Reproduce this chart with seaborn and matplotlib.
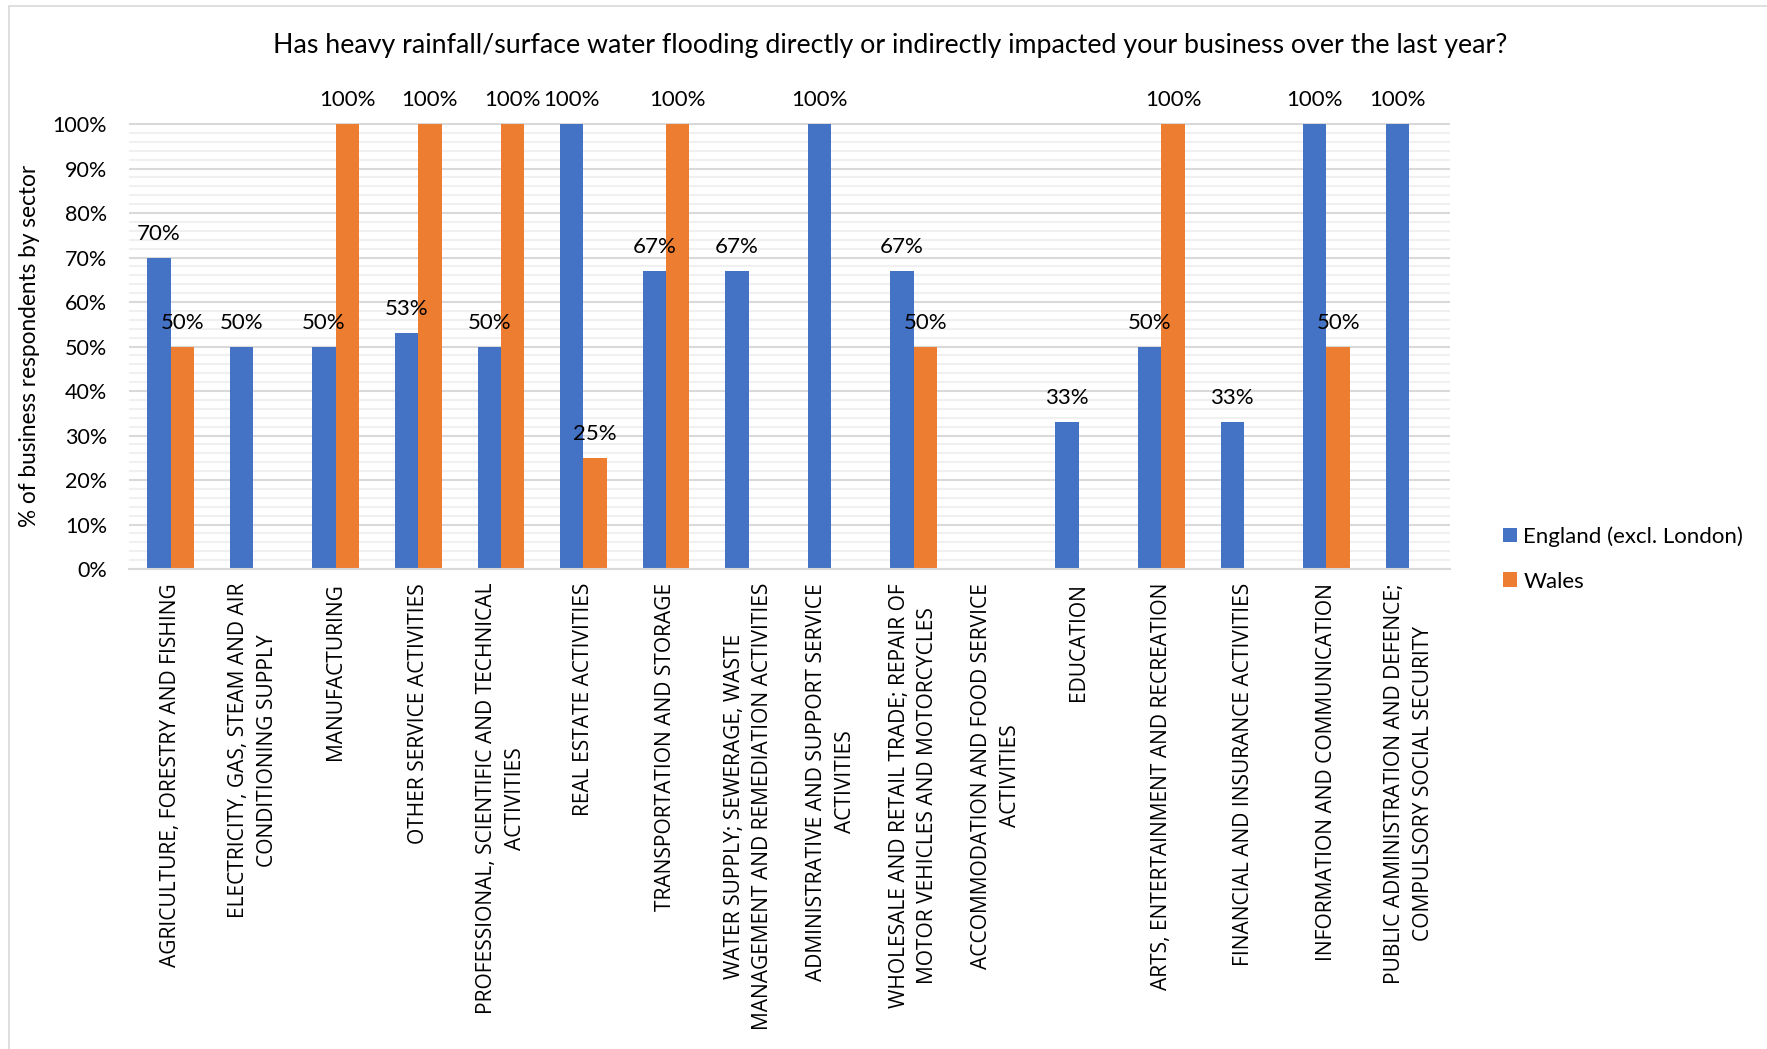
import matplotlib
matplotlib.use("Agg")
import matplotlib.pyplot as plt
from matplotlib.patches import Rectangle
from matplotlib.ticker import MultipleLocator, FuncFormatter
import seaborn as sns
import pandas as pd

# Sectors (line breaks follow the wrapped axis labels)
sectors = [
    "AGRICULTURE, FORESTRY AND FISHING",
    "ELECTRICITY, GAS, STEAM AND AIR\nCONDITIONING SUPPLY",
    "MANUFACTURING",
    "OTHER SERVICE ACTIVITIES",
    "PROFESSIONAL, SCIENTIFIC AND TECHNICAL\nACTIVITIES",
    "REAL ESTATE ACTIVITIES",
    "TRANSPORTATION AND STORAGE",
    "WATER SUPPLY; SEWERAGE, WASTE\nMANAGEMENT AND REMEDIATION ACTIVITIES",
    "ADMINISTRATIVE AND SUPPORT SERVICE\nACTIVITIES",
    "WHOLESALE AND RETAIL TRADE; REPAIR OF\nMOTOR VEHICLES AND MOTORCYCLES",
    "ACCOMMODATION AND FOOD SERVICE\nACTIVITIES",
    "EDUCATION",
    "ARTS, ENTERTAINMENT AND RECREATION",
    "FINANCIAL AND INSURANCE ACTIVITIES",
    "INFORMATION AND COMMUNICATION",
    "PUBLIC ADMINISTRATION AND DEFENCE;\nCOMPULSORY SOCIAL SECURITY",
]

# Share of respondents impacted, in percent
england = [70, 50, 50, 53, 50, 100, 67, 67, 100, 67, 0, 33, 50, 33, 100, 100]
wales = [50, 0, 100, 100, 100, 25, 100, 0, 0, 50, 0, 0, 100, 0, 50, 0]

regions = ["England (excl. London)", "Wales"]
colors = ["#4472C4", "#ED7D31"]

title = ("Has heavy rainfall/surface water flooding directly or indirectly "
         "impacted your business over the last year?")
y_label = "% of business respondents by sector"

sns.set_theme(style="white")
plt.rcParams["font.family"] = ["Lato", "DejaVu Sans"]
plt.rcParams["text.color"] = "#000000"

df = pd.DataFrame({
    "sector": sectors * 2,
    "share": england + wales,
    "region": [regions[0]] * len(sectors) + [regions[1]] * len(sectors),
})

W, H = 1767, 1049
fig = plt.figure(figsize=(W / 100, H / 100), dpi=100)
fig.patch.set_facecolor("white")
ax = fig.add_axes([129.3 / W, 1 - 569 / H, 1321 / W, 446 / H])

sns.barplot(
    data=df, x="sector", y="share", hue="region",
    order=sectors, hue_order=regions, palette=colors,
    width=0.565, saturation=1, linewidth=0, errorbar=None, ax=ax,
)

# Value labels above each non-empty bar
for cont in ax.containers:
    vals = cont.datavalues
    ax.bar_label(cont, labels=[f"{v:.0f}%" if v > 0 else "" for v in vals],
                 padding=10, fontsize=16, color="#000000")

# Axis scale and gridlines
ax.set_ylim(0, 100.25)
ax.yaxis.set_major_locator(MultipleLocator(10))
ax.yaxis.set_minor_locator(MultipleLocator(2))
ax.yaxis.set_major_formatter(FuncFormatter(lambda v, _: f"{v:.0f}%"))
ax.set_axisbelow(True)
ax.grid(which="minor", axis="y", color="#F0F0F0", linewidth=1.5)
ax.grid(which="major", axis="y", color="#D9D9D9", linewidth=1.5)
ax.grid(which="both", axis="x", visible=False)

for side in ["top", "right", "left"]:
    ax.spines[side].set_visible(False)
ax.spines["bottom"].set_color("#D9D9D9")
ax.spines["bottom"].set_linewidth(1.5)

ax.set_xlabel("")
ax.set_ylabel("")
ax.tick_params(axis="y", which="both", length=0, pad=16, labelsize=15.5,
               labelcolor="#000000")
ax.set_xticks(range(len(sectors)))
ax.set_xticklabels(sectors, rotation=90, ha="center", va="top",
                   multialignment="center", linespacing=1.48)
ax.tick_params(axis="x", length=0, pad=10, labelsize=15.1,
               labelcolor="#000000", labelfontfamily="Open Sans")

# Title and axis title
fig.text(890 / W, 1 - 45 / H, title, ha="center", va="center", fontsize=19.3)
fig.text(30 / W, 1 - 346 / H, y_label, ha="center", va="center",
         rotation=90, fontsize=16.3)

# Legend at the right of the plot
sns.move_legend(
    ax, loc="center left", bbox_to_anchor=(1503 / W, 1 - 559 / H),
    bbox_transform=fig.transFigure, frameon=False, title=None,
    fontsize=16, handlelength=0.62, handleheight=0.62, handletextpad=0.3,
    labelspacing=1.1, borderpad=0, borderaxespad=0,
)

# Chart area border
fig.add_artist(Rectangle((9 / W, -0.1), 1.2, 1 - 6 / H + 0.1,
                         transform=fig.transFigure, fill=False,
                         edgecolor="#D9D9D9", linewidth=1.2))

fig.savefig("out.png", dpi=100)
